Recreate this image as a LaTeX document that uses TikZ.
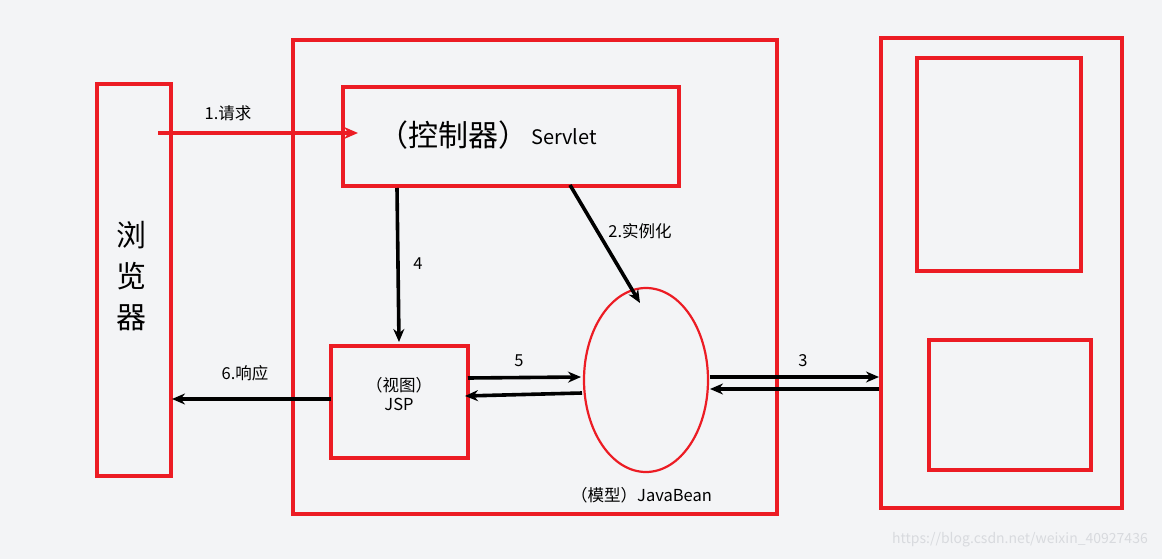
\documentclass[tikz,border=0pt]{standalone}
\usepackage{fontspec}
\setmainfont{Noto Sans CJK SC}
\usetikzlibrary{arrows.meta,shapes.geometric}
\definecolor{bg}{HTML}{F3F4F6}
\definecolor{rd}{HTML}{EC1C24}
\definecolor{wm}{HTML}{D8DADE}
\tikzset{
  box/.style={draw=rd, line width=3.2pt, inner sep=0pt},
  arr/.style={-{Stealth[length=13pt,width=11pt]}, line width=3.6pt, black},
  rarr/.style={-{Stealth[length=14pt,width=12pt]}, line width=3.4pt, rd},
  lbl/.style={font=\fontsize{16.5}{19}\selectfont, inner sep=0pt},
}
\begin{document}
\begin{tikzpicture}[x=1pt,y=-1pt]
\fill[bg] (0,0) rectangle (1162,559);
\useasboundingbox (0,0) rectangle (1162,559);
% containers
\draw[box] (97,84) rectangle (171,476);
\draw[box] (293,40) rectangle (777,514);
\draw[box] (881,38) rectangle (1122,508);
\draw[box] (917,58) rectangle (1081,271);
\draw[box] (929,340) rectangle (1091,470);
% browser text
\node[font=\fontsize{30}{36}\selectfont, align=center, inner sep=0pt] (btxt) at (131,276) {浏\\[5pt]览\\[5pt]器};
% controller
\node[box, minimum width=336pt, minimum height=99pt] (ctrl) at (511,136.5) {};
\node[font=\fontsize{30}{32}\selectfont, inner sep=0pt, anchor=west] (ctxt) at (378,135) {（控制器）};
\node[font=\fontsize{20}{22}\selectfont, inner sep=0pt, anchor=west] (stxt) at (531,137) {Servlet};
% JSP
\node[box, minimum width=137pt, minimum height=112pt] (jsp) at (399.5,402) {};
\node[lbl, align=center] (jsptxt) at (399,394) {（视图）\\JSP};
% bean ellipse
\node[ellipse, draw=rd, line width=2.2pt, minimum width=124pt, minimum height=184pt, inner sep=0pt] (bean) at (646,380) {};
\node[lbl, anchor=west] (beantxt) at (571,495) {（模型）JavaBean};
% coordinates
\coordinate (reqS) at (158,133);
\coordinate (reqE) at (358,133);
\coordinate (a4s) at (397,188);
\coordinate (a4e) at (399,342);
\coordinate (a2s) at (570,185);
\coordinate (a2e) at (640,303);
\coordinate (a5s) at (468,378);
\coordinate (a5e) at (581,377);
\coordinate (a5rs) at (582,393);
\coordinate (a5re) at (465,396);
\coordinate (a3s) at (710,377);
\coordinate (a3e) at (879,377);
\coordinate (a3rs) at (879,389);
\coordinate (a3re) at (710,389);
\coordinate (a6s) at (331,399);
\coordinate (a6e) at (172,399);
% arrows
\draw[rarr] (reqS) -- (reqE);
\draw[arr] (a4s) -- (a4e);
\draw[arr] (a2s) -- (a2e);
\draw[arr] (a5s) -- (a5e);
\draw[arr] (a5rs) -- (a5re);
\draw[arr] (a3s) -- (a3e);
\draw[arr] (a3rs) -- (a3re);
\draw[arr] (a6s) -- (a6e);
% labels
\node[lbl] (l1) at (228,113) {1.请求};
\node[lbl] (l4) at (418,264) {4};
\node[lbl] (l2) at (640,231) {2.实例化};
\node[lbl] (l5) at (519,361) {5};
\node[lbl] (l3) at (803,361) {3};
\node[lbl] (l6) at (245,373) {6.响应};
\node[font=\fontsize{14}{16}\selectfont, text=wm, inner sep=0pt] (wmk) at (1020,540) {https://blog.csdn.net/weixin\_40927436};
\end{tikzpicture}
\end{document}
